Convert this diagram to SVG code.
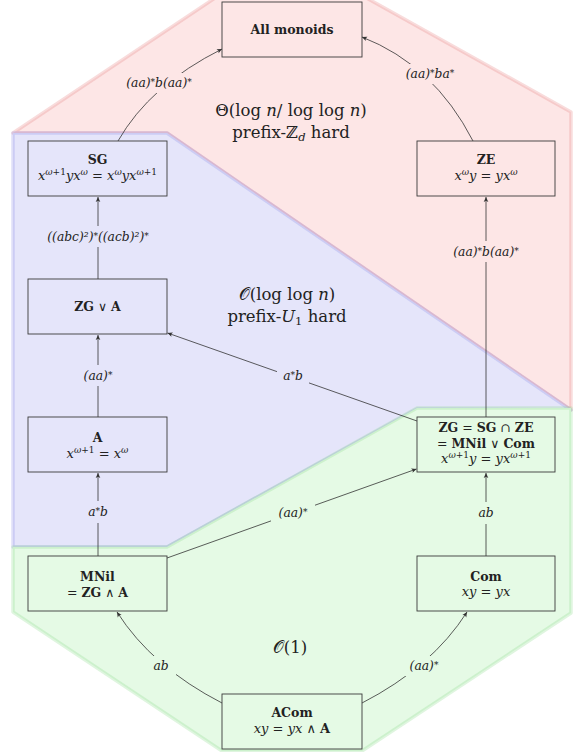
<svg xmlns="http://www.w3.org/2000/svg" width="579" height="752" viewBox="0 0 579 752">
<defs>
<style>
text { font-family: "DejaVu Serif", "Liberation Serif", serif; fill: #222; }
.b { font-weight: bold; }
.f { font-size: 12.5px; }
.fm { font-size: 13px; }
.i { font-style: italic; }
.s { font-size: 9px; }
.lab { font-size: 12.3px; font-style: italic; }
.reg { font-size: 16.5px; }
.box { fill: none; stroke: #3a3a3a; stroke-width: 0.9; }
.e { fill: none; stroke: #333; stroke-width: 0.8; marker-end: url(#ah); }
.rbg { fill: #fde6e6; }
.bbg { fill: #e5e5fa; }
.gbg { fill: #e5fae5; }
</style>
<marker id="ah" viewBox="-6 -3 7 6" refX="0" refY="0" markerWidth="7" markerHeight="6" markerUnits="userSpaceOnUse" orient="auto">
<path d="M0,0 L-5,-2.3 L-3.8,0 L-5,2.3 Z" fill="#333"/>
</marker>
</defs>

<g id="regions">
<g id="region-red">
<polygon points="218,-4 363,-4 571,112 571,410 167,133 13,133" fill="#fde6e6" stroke="rgb(230,130,130)" stroke-opacity="0.28" stroke-width="3.5" stroke-linejoin="round"/>
<text class="reg" x="291" y="116" text-anchor="middle">Θ(log <tspan class="i">n</tspan>/ log log <tspan class="i">n</tspan>)</text>
<text class="reg" x="291" y="138" text-anchor="middle">prefix-ℤ<tspan class="i" font-size="11.5" dy="3">d</tspan><tspan dy="-3"> hard</tspan></text>
</g>
<g id="region-blue">
<polygon points="13,133 167,133 571,410 417,409 167,547 13,547" fill="#e5e5fa" stroke="rgb(140,140,230)" stroke-opacity="0.28" stroke-width="3.5" stroke-linejoin="round"/>
<text class="reg" x="287" y="300" text-anchor="middle">𝒪(log log <tspan class="i">n</tspan>)</text>
<text class="reg" x="287" y="322" text-anchor="middle">prefix-<tspan class="i">U</tspan><tspan font-size="11.5" dy="3">1</tspan><tspan dy="-3"> hard</tspan></text>
</g>
<g id="region-green">
<polygon points="13,547 167,547 417,408 571,408 571,613 362,751 222,751 13,612" fill="#e5fae5" stroke="rgb(140,220,140)" stroke-opacity="0.28" stroke-width="3.5" stroke-linejoin="round"/>
<text class="reg" x="290" y="653" text-anchor="middle">𝒪(1)</text>
</g>
</g>

<g id="connectors">
<path class="e" d="M118,141 Q150,85 222,49"/>
<path class="e" d="M473,141 Q434,65 362,37"/>
<path class="e" d="M98,279 L98,197"/>
<path class="e" d="M98,417 L98,335"/>
<path class="e" d="M98,556 L98,473"/>
<path class="e" d="M486,417 L486,197"/>
<path class="e" d="M486,556 L486,473"/>
<path class="e" d="M417,421 L167.5,333"/>
<path class="e" d="M167,558 L416.5,469"/>
<path class="e" d="M222,703 Q152,667 117,612"/>
<path class="e" d="M362,703 Q432,667 467,612"/>

<rect class="rbg" x="120" y="73" width="78" height="20"/>
<text class="lab" x="159" y="87" text-anchor="middle">(aa)<tspan class="s" dy="-2">*</tspan><tspan dy="2">b(aa)</tspan><tspan class="s" dy="-2">*</tspan></text>

<rect class="rbg" x="399" y="64" width="62" height="20"/>
<text class="lab" x="430" y="78" text-anchor="middle">(aa)<tspan class="s" dy="-2">*</tspan><tspan dy="2">ba</tspan><tspan class="s" dy="-2">*</tspan></text>

<rect class="bbg" x="41" y="226" width="114" height="21"/>
<text class="lab" x="98" y="241" text-anchor="middle">((abc)²)<tspan class="s" dy="-2">*</tspan><tspan dy="2">((acb)²)</tspan><tspan class="s" dy="-2">*</tspan></text>

<rect class="bbg" x="77" y="365" width="42" height="21"/>
<text class="lab" x="98" y="380" text-anchor="middle">(aa)<tspan class="s" dy="-2">*</tspan></text>

<rect class="bbg" x="82" y="501" width="32" height="22"/>
<text class="lab" x="98" y="516" text-anchor="middle">a<tspan class="s" dy="-2">*</tspan><tspan dy="2">b</tspan></text>

<rect class="rbg" x="447" y="241" width="78" height="21"/>
<text class="lab" x="486" y="256" text-anchor="middle">(aa)<tspan class="s" dy="-2">*</tspan><tspan dy="2">b(aa)</tspan><tspan class="s" dy="-2">*</tspan></text>

<rect class="bbg" x="277" y="366" width="32" height="20"/>
<text class="lab" x="293" y="380" text-anchor="middle">a<tspan class="s" dy="-2">*</tspan><tspan dy="2">b</tspan></text>

<rect class="gbg" x="271" y="503" width="44" height="20"/>
<text class="lab" x="293" y="517" text-anchor="middle">(aa)<tspan class="s" dy="-2">*</tspan></text>

<rect class="gbg" x="472" y="502" width="28" height="22"/>
<text class="lab" x="486" y="517" text-anchor="middle">ab</text>

<rect class="gbg" x="146" y="656" width="30" height="20"/>
<text class="lab" x="161" y="670" text-anchor="middle">ab</text>

<rect class="gbg" x="402" y="656" width="44" height="20"/>
<text class="lab" x="424" y="670" text-anchor="middle">(aa)<tspan class="s" dy="-2">*</tspan></text>
</g>

<g id="n-all">
<rect class="box" x="222" y="2" width="140" height="55"/>
<text class="f b" x="292" y="34" text-anchor="middle">All monoids</text>
</g>

<g id="n-sg">
<rect class="box" x="28" y="141" width="139" height="55"/>
<text class="f b" x="97.5" y="164" text-anchor="middle">SG</text>
<text class="fm" x="97.5" y="180" text-anchor="middle"><tspan class="i">x</tspan><tspan class="s i" dy="-5">ω</tspan><tspan class="s">+1</tspan><tspan class="i" dy="5">yx</tspan><tspan class="s i" dy="-5">ω</tspan><tspan dy="5"> = </tspan><tspan class="i">x</tspan><tspan class="s i" dy="-5">ω</tspan><tspan class="i" dy="5">yx</tspan><tspan class="s i" dy="-5">ω</tspan><tspan class="s">+1</tspan></text>
</g>

<g id="n-ze">
<rect class="box" x="417" y="141" width="138" height="55"/>
<text class="f b" x="486" y="164" text-anchor="middle">ZE</text>
<text class="fm" x="486" y="180" text-anchor="middle"><tspan class="i">x</tspan><tspan class="s i" dy="-5">ω</tspan><tspan class="i" dy="5">y</tspan> = <tspan class="i">yx</tspan><tspan class="s i" dy="-5">ω</tspan></text>
</g>

<g id="n-zgva">
<rect class="box" x="28" y="279" width="139" height="55"/>
<text class="f" x="97.5" y="311" text-anchor="middle"><tspan class="b">ZG</tspan> ∨ <tspan class="b">A</tspan></text>
</g>

<g id="n-a">
<rect class="box" x="28" y="417" width="139" height="55"/>
<text class="f b" x="97.5" y="442" text-anchor="middle">A</text>
<text class="fm" x="97.5" y="458" text-anchor="middle"><tspan class="i">x</tspan><tspan class="s i" dy="-5">ω</tspan><tspan class="s">+1</tspan><tspan dy="5"> = </tspan><tspan class="i">x</tspan><tspan class="s i" dy="-5">ω</tspan></text>
</g>

<g id="n-zg">
<rect class="box" x="417" y="417" width="138" height="55"/>
<text class="f" x="486" y="432" text-anchor="middle"><tspan class="b">ZG</tspan> = <tspan class="b">SG</tspan> ∩ <tspan class="b">ZE</tspan></text>
<text class="f" x="486" y="448" text-anchor="middle">= <tspan class="b">MNil</tspan> ∨ <tspan class="b">Com</tspan></text>
<text class="fm" x="486" y="463" text-anchor="middle"><tspan class="i">x</tspan><tspan class="s i" dy="-5">ω</tspan><tspan class="s">+1</tspan><tspan class="i" dy="5">y</tspan> = <tspan class="i">yx</tspan><tspan class="s i" dy="-5">ω</tspan><tspan class="s">+1</tspan></text>
</g>

<g id="n-mnil">
<rect class="box" x="28" y="556" width="139" height="55"/>
<text class="f b" x="97.5" y="581" text-anchor="middle">MNil</text>
<text class="f" x="97.5" y="597" text-anchor="middle">= <tspan class="b">ZG</tspan> ∧ <tspan class="b">A</tspan></text>
</g>

<g id="n-com">
<rect class="box" x="417" y="556" width="138" height="55"/>
<text class="f b" x="486" y="581" text-anchor="middle">Com</text>
<text class="fm" x="486" y="596" text-anchor="middle"><tspan class="i">xy</tspan> = <tspan class="i">yx</tspan></text>
</g>

<g id="n-acom">
<rect class="box" x="222" y="694" width="140" height="55"/>
<text class="f b" x="292" y="717" text-anchor="middle">ACom</text>
<text class="fm" x="292" y="733" text-anchor="middle"><tspan class="i">xy</tspan> = <tspan class="i">yx</tspan> ∧ <tspan class="b">A</tspan></text>
</g>
</svg>
